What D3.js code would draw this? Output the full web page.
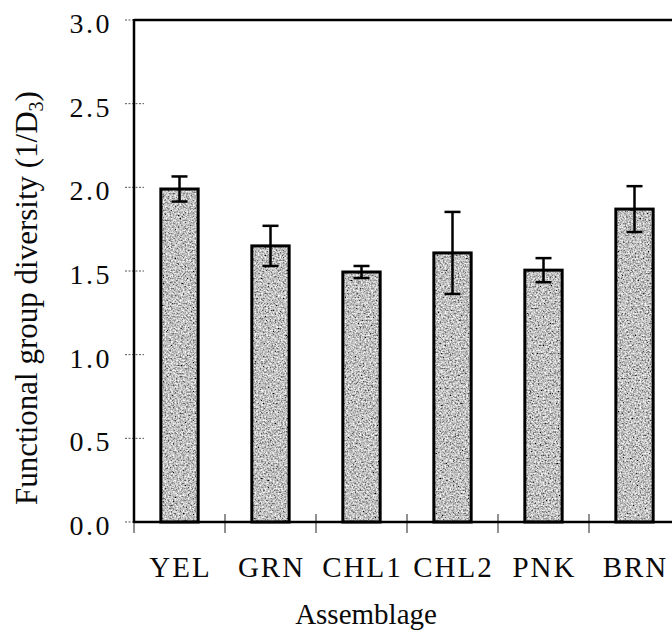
<!DOCTYPE html>
<html>
<head>
<meta charset="utf-8">
<script src="https://cdn.jsdelivr.net/npm/d3@7"></script>
<style>
  html, body { margin: 0; padding: 0; background: #fff; }
  svg { display: block; }
  text { font-family: "Liberation Serif", "Times New Roman", serif; fill: #0a0a0a; }
</style>
</head>
<body>
<svg id="chart" width="672" height="631"></svg>
<script>
// Assemblage categories and functional group diversity (1/D3), mean ± error
const categories = ["YEL", "GRN", "CHL1", "CHL2", "PNK", "BRN"];
const means = [1.99, 1.65, 1.494, 1.608, 1.505, 1.87];
const errors = [0.075, 0.12, 0.036, 0.245, 0.072, 0.137];
const yTicks = [0, 0.5, 1.0, 1.5, 2.0, 2.5, 3.0];

const svg = d3.select("#chart");
const plotLeft = 134, plotRight = 680, plotTop = 20, plotBottom = 522;

const x = d3.scaleBand().domain(categories).range([plotLeft, plotRight])
  .paddingInner(0.59).paddingOuter(0.295);
const xEdges = d3.scaleBand().domain(categories).range([plotLeft, plotRight]).padding(0);
const y = d3.scaleLinear().domain([0, 3]).range([plotBottom, plotTop]);

// grainy grey texture for the bars
const defs = svg.append("defs");
const f = defs.append("filter").attr("id", "grain")
  .attr("x", 0).attr("y", 0).attr("width", 1).attr("height", 1)
  .attr("filterUnits", "objectBoundingBox");
f.append("feTurbulence").attr("type", "fractalNoise")
  .attr("baseFrequency", 0.6).attr("numOctaves", 3).attr("seed", 7).attr("result", "noise");
f.append("feColorMatrix").attr("in", "noise").attr("type", "matrix")
  .attr("values", "1.6 0 0 0 -0.27  1.6 0 0 0 -0.27  1.6 0 0 0 -0.27  0 0 0 0 1")
  .attr("result", "grey");
f.append("feComposite").attr("in", "grey").attr("in2", "SourceGraphic").attr("operator", "in");

// y tick marks (dotted, crossing the axis)
svg.append("g")
  .selectAll("line").data(yTicks).join("line")
  .attr("x1", plotLeft - 9).attr("x2", plotLeft + 10)
  .attr("y1", d => y(d)).attr("y2", d => y(d))
  .attr("stroke", "#555").attr("stroke-width", 1)
  .attr("stroke-dasharray", "2,1.5");

// y tick labels
svg.append("g")
  .selectAll("text").data(yTicks).join("text")
  .attr("x", 112).attr("y", d => y(d) + 13)
  .attr("text-anchor", "end")
  .attr("font-size", 28).attr("letter-spacing", 2.5)
  .text(d => d.toFixed(1));

// bars
const bars = svg.append("g");
bars.selectAll("rect.fill").data(categories).join("rect")
  .attr("class", "fill")
  .attr("x", d => x(d)).attr("width", x.bandwidth())
  .attr("y", (d, i) => y(means[i])).attr("height", (d, i) => plotBottom - y(means[i]))
  .attr("fill", "#a0a0a0")
  .attr("filter", "url(#grain)");
bars.selectAll("rect.outline").data(categories).join("rect")
  .attr("class", "outline")
  .attr("x", d => x(d)).attr("width", x.bandwidth())
  .attr("y", (d, i) => y(means[i])).attr("height", (d, i) => plotBottom - y(means[i]))
  .attr("fill", "none").attr("stroke", "#000").attr("stroke-width", 3);

// error bars
const eb = svg.append("g").attr("stroke", "#000").attr("stroke-width", 2.5);
const cx = d => x(d) + x.bandwidth() / 2;
eb.selectAll("line.stem").data(categories).join("line")
  .attr("class", "stem")
  .attr("x1", cx).attr("x2", cx)
  .attr("y1", (d, i) => y(means[i] - errors[i])).attr("y2", (d, i) => y(means[i] + errors[i]));
eb.selectAll("line.capTop").data(categories).join("line")
  .attr("class", "capTop")
  .attr("x1", d => cx(d) - 8).attr("x2", d => cx(d) + 8)
  .attr("y1", (d, i) => y(means[i] + errors[i])).attr("y2", (d, i) => y(means[i] + errors[i]));
eb.selectAll("line.capBot").data(categories).join("line")
  .attr("class", "capBot")
  .attr("x1", d => cx(d) - 8).attr("x2", d => cx(d) + 8)
  .attr("y1", (d, i) => y(means[i] - errors[i])).attr("y2", (d, i) => y(means[i] - errors[i]));

// category boundary ticks on the x axis
const edges = categories.map(c => xEdges(c));
svg.append("g")
  .selectAll("line").data(edges).join("line")
  .attr("x1", d => d).attr("x2", d => d)
  .attr("y1", plotBottom - 8).attr("y2", plotBottom + 11)
  .attr("stroke", "#222").attr("stroke-width", 1);

// axis frame lines
svg.append("line").attr("x1", plotLeft).attr("x2", plotRight).attr("y1", y(3)).attr("y2", y(3))
  .attr("stroke", "#000").attr("stroke-width", 2.5);
svg.append("line").attr("x1", plotLeft).attr("x2", plotRight).attr("y1", y(0)).attr("y2", y(0))
  .attr("stroke", "#000").attr("stroke-width", 2.5);
svg.append("line").attr("x1", plotLeft).attr("x2", plotLeft).attr("y1", y(3) - 1).attr("y2", y(0) + 1)
  .attr("stroke", "#000").attr("stroke-width", 2.5);

// category labels
svg.append("g")
  .selectAll("text").data(categories).join("text")
  .attr("x", d => cx(d) + 1).attr("y", 577)
  .attr("text-anchor", "middle")
  .attr("font-size", 29).attr("letter-spacing", 2)
  .text(d => d);

// axis titles
svg.append("text")
  .attr("x", 366).attr("y", 624)
  .attr("text-anchor", "middle").attr("font-size", 29)
  .text("Assemblage");

const yTitle = svg.append("text")
  .attr("transform", "translate(37,298) rotate(-90)")
  .attr("text-anchor", "middle").attr("font-size", 31);
yTitle.append("tspan").text("Functional group diversity (1/D");
yTitle.append("tspan").attr("font-size", 20).attr("dy", 6).text("3");
yTitle.append("tspan").attr("dy", -6).text(")");
</script>
</body>
</html>
